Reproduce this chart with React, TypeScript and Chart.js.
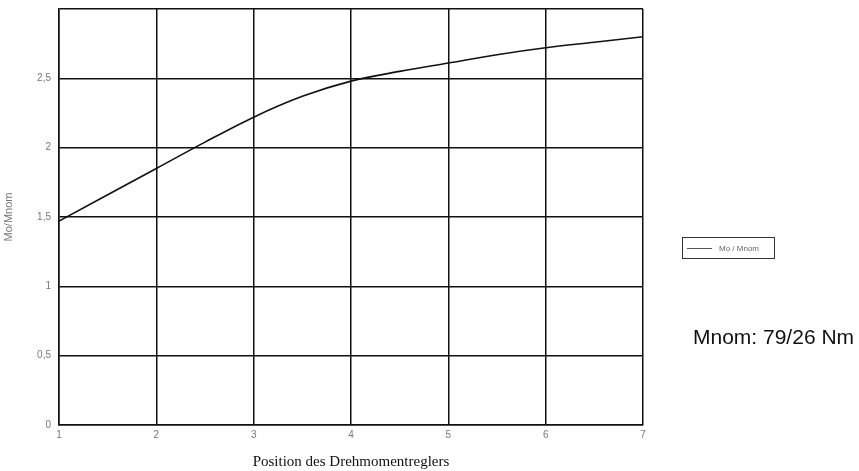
import React, { useEffect, useRef } from "react";
import { Chart, registerables } from "chart.js";

Chart.register(...registerables);

const positions = [1, 1.5, 2, 2.5, 3, 3.5, 4, 4.5, 5, 5.5, 6, 6.5, 7];
const moRatio = [1.47, 1.66, 1.85, 2.04, 2.22, 2.37, 2.48, 2.55, 2.61, 2.67, 2.72, 2.76, 2.8];
const seriesLabel = "Mo / Mnom";
const yAxisTitle = "Mo/Mnom";
const xAxisTitle = "Position des Drehmomentreglers";
const noteText = "Mnom: 79/26 Nm";

export default function App() {
  const canvasRef = useRef<HTMLCanvasElement | null>(null);

  useEffect(() => {
    const canvas = canvasRef.current;
    if (!canvas) return;
    const chart = new Chart(canvas, {
      type: "line",
      data: {
        datasets: [
          {
            label: seriesLabel,
            data: positions.map((x, i) => ({ x, y: moRatio[i] })),
            borderColor: "#111",
            borderWidth: 1.6,
            pointRadius: 0,
            cubicInterpolationMode: "monotone",
            fill: false,
          },
        ],
      },
      options: {
        responsive: false,
        animation: false,
        layout: { padding: { left: 0, top: 9, right: 216, bottom: 0 } },
        plugins: {
          legend: { display: false },
          tooltip: { enabled: false },
        },
        scales: {
          x: {
            type: "linear",
            min: 1,
            max: 7,
            ticks: {
              stepSize: 1,
              color: "#777",
              font: { family: "Liberation Sans", size: 10 },
              padding: 4,
            },
            grid: { color: "#111", lineWidth: 1.5, drawTicks: false },
            border: { color: "#111", width: 1.5 },
            title: {
              display: true,
              text: xAxisTitle,
              color: "#111",
              font: { family: "Liberation Serif", size: 15 },
              padding: { top: 0, bottom: 0 },
            },
            afterFit: (scale: any) => {
              scale.height = 46;
              scale.paddingLeft = 0;
              scale.paddingRight = 0;
            },
          },
          y: {
            type: "linear",
            min: 0,
            max: 3,
            ticks: {
              stepSize: 0.5,
              color: "#777",
              font: { family: "Liberation Sans", size: 10 },
              padding: 8,
              callback: (v: any) => (v === 3 ? "" : String(v).replace(".", ",")),
            },
            grid: { color: "#111", lineWidth: 1.5, drawTicks: false },
            border: { color: "#111", width: 1.5 },
            title: {
              display: true,
              text: yAxisTitle,
              color: "#777",
              font: { family: "Liberation Sans", size: 11 },
              padding: { top: 2, bottom: 0 },
            },
            afterFit: (scale: any) => {
              scale.width = 59;
              scale.paddingTop = 0;
              scale.paddingBottom = 0;
            },
          },
        },
      },
    });
    return () => chart.destroy();
  }, []);

  return (
    <div style={{ position: "fixed", left: 0, top: 0, width: 859, height: 471, background: "#fff" }}>
      <canvas ref={canvasRef} width={859} height={471} style={{ position: "absolute", left: 0, top: 0 }} />
      <div
        style={{
          position: "absolute",
          left: 682,
          top: 237,
          width: 93,
          height: 22,
          border: "1px solid #333",
          display: "flex",
          alignItems: "center",
          fontFamily: "Liberation Sans",
          fontSize: 8,
          color: "#666",
          boxSizing: "border-box",
        }}
      >
        <div style={{ width: 25, height: 0, borderTop: "1px solid #555", marginLeft: 4, marginRight: 7 }} />
        <span>{seriesLabel}</span>
      </div>
      <div
        style={{
          position: "absolute",
          left: 693,
          top: 325,
          fontFamily: "Liberation Sans",
          fontSize: 21,
          color: "#111",
          whiteSpace: "nowrap",
          lineHeight: "24px",
        }}
      >
        {noteText}
      </div>
    </div>
  );
}
